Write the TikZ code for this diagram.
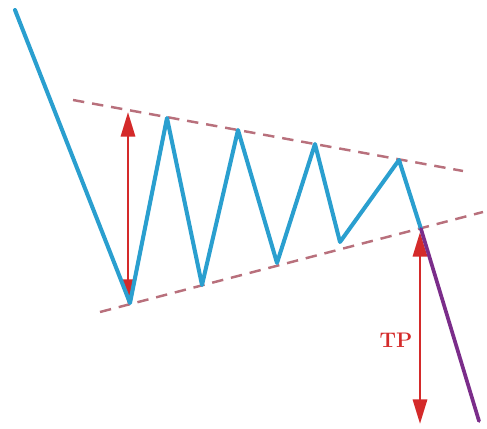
\documentclass[tikz,border=0pt]{standalone}
\usepackage{tikz}
\usetikzlibrary{arrows.meta}
\definecolor{wave}{HTML}{2A9FCF}
\definecolor{bound}{HTML}{B8707C}
\definecolor{target}{HTML}{D42A2A}
\definecolor{drop}{HTML}{7B2D8A}

\begin{document}
\begin{tikzpicture}[x=0.02cm, y=-0.02cm,
      waveline/.style={wave, line width=2.3pt, line join=round, line cap=round},
      boundline/.style={bound, line width=1.4pt, dash pattern=on 6.5pt off 4.5pt},
      measure/.style={{Triangle[length=14pt, width=8pt]}-{Triangle[length=14pt, width=8pt]}, target, line width=1.7pt},
      dropline/.style={drop, line width=2.1pt, line cap=round},
      tplabel/.style={text=target, font=\fontsize{12}{14}\selectfont\bfseries}
    ]
      \useasboundingbox (0,0) rectangle (487,429);

      % Price swings
      \coordinate (start) at (15,10);
      \coordinate (l1) at (130,303);
      \coordinate (h1) at (167,118);
      \coordinate (l2) at (202,285);
      \coordinate (h2) at (238,130);
      \coordinate (l3) at (277,263);
      \coordinate (h3) at (315,144);
      \coordinate (l4) at (340,242);
      \coordinate (h4) at (399,160);
      \coordinate (brk) at (421,229);
      \coordinate (end) at (479,421);

      % Triangle bounds
      \coordinate (ua) at (73,100);
      \coordinate (ub) at (463,171);
      \coordinate (la) at (100,312);
      \coordinate (lb) at (483,212);

      % Measure ends
      \coordinate (ht) at (128,112);
      \coordinate (hb) at (128,304);
      \coordinate (tt) at (420,232);
      \coordinate (tb) at (420,424);

      \draw[boundline] (ua) -- (ub);
      \draw[boundline] (la) -- (lb);

      \draw[measure] (hb) -- (ht);
      \draw[measure] (tt) -- (tb);

      \draw[waveline] (start) -- (l1) -- (h1) -- (l2) -- (h2) -- (l3) -- (h3) -- (l4) -- (h4) -- (brk);
      \draw[dropline] (brk) -- (end);

      \node[tplabel] (tp) at (396,340) {TP};
    \end{tikzpicture}
\end{document}
